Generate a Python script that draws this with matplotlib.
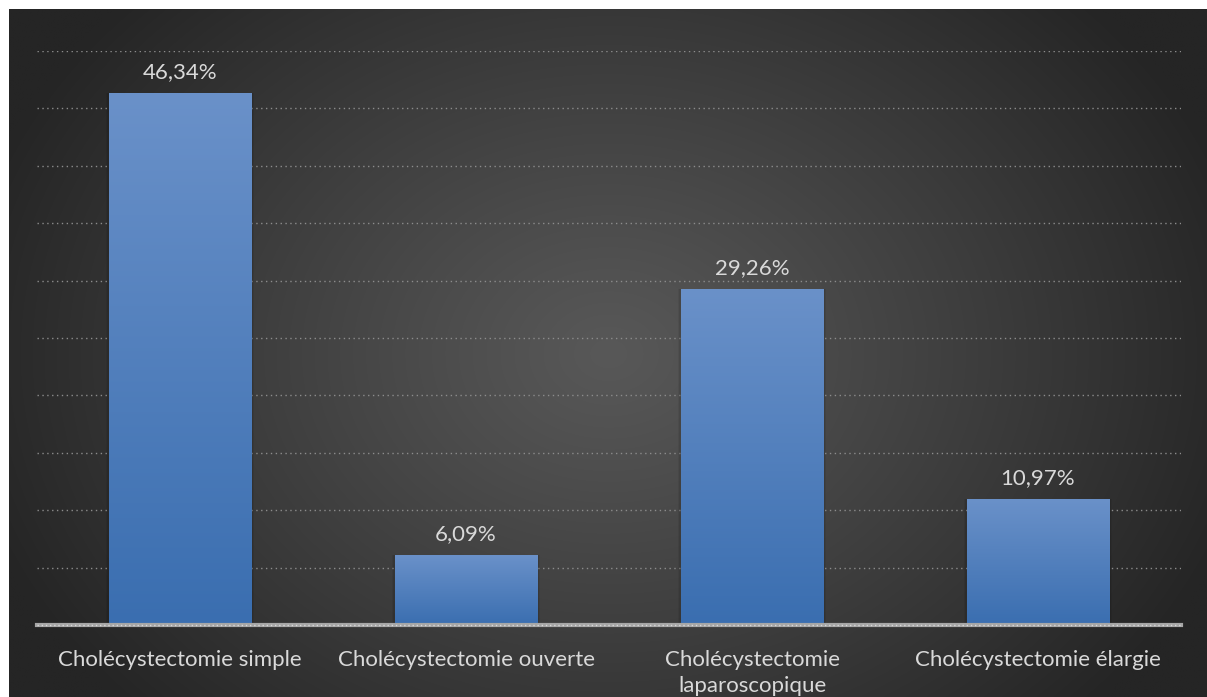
import numpy as np
import matplotlib
matplotlib.use("Agg")
import matplotlib.pyplot as plt
from matplotlib.colors import LinearSegmentedColormap

categories = ["Cholécystectomie simple", "Cholécystectomie ouverte",
              "Cholécystectomie\nlaparoscopique", "Cholécystectomie élargie"]
values = [46.34, 6.09, 29.26, 10.97]
value_labels = ["46,34%", "6,09%", "29,26%", "10,97%"]

W, H, DPI = 1207, 697, 100
fig = plt.figure(figsize=(W / DPI, H / DPI), dpi=DPI, facecolor="white")

# dark radial-gradient panel
bg = fig.add_axes([9 / W, 0, 1 - 9 / W, 1 - 9 / H])
bg.set_axis_off()
ny, nx = 400, 700
yy, xx = np.mgrid[0:ny, 0:nx]
cx, cy = nx * 0.5, ny * 0.5
r = np.sqrt(((xx - cx) / (nx * 0.55)) ** 2 + ((yy - cy) / (ny * 0.75)) ** 2)
r = np.clip(r, 0, 1)
c_center, c_edge = 0x58 / 255, 0x25 / 255
shade = c_center + (c_edge - c_center) * r ** 1.1
bg.imshow(np.dstack([shade] * 3), aspect="auto", extent=[0, 1, 0, 1],
          interpolation="bilinear")
bg.set_xlim(0, 1)
bg.set_ylim(0, 1)

ax = fig.add_axes([37 / W, (H - 625) / H, (1181 - 37) / W, (625 - 51) / H])
ax.patch.set_alpha(0)
ax.set_xlim(-0.5, 3.5)
ax.set_ylim(0, 50)

for g in np.arange(5, 51, 5):
    ax.axhline(g, color="#8c8c8c", lw=1.0, ls=(0, (1, 2.5)), zorder=1)

x = np.arange(len(categories))
bars = ax.bar(x, values, width=0.5, color="#4a7cbd", zorder=2, edgecolor="none")

cmap = LinearSegmentedColormap.from_list("barfill", ["#3a6eb0", "#6a91c9"])
grad = np.linspace(0, 1, 256).reshape(-1, 1)
for b in bars:
    x0, w, h = b.get_x(), b.get_width(), b.get_height()
    # soft shadow
    for k, a in ((0.010, 0.06), (0.005, 0.08)):
        ax.bar(x0 + w / 2, h, width=w + 2 * k, color="black", alpha=a,
               zorder=1.5, edgecolor="none")
    im = ax.imshow(grad, cmap=cmap, origin="lower", aspect="auto",
                   extent=[x0, x0 + w, 0, h], zorder=3, interpolation="bilinear")
    im.set_clip_path(b)

ax.set_xlim(-0.5, 3.5)
ax.set_ylim(0, 50)

for xi, v, lab in zip(x, values, value_labels):
    ax.annotate(lab, (xi, v), xytext=(0, 15), textcoords="offset points",
                ha="center", va="center", color="#d9d9d9", fontsize=16,
                family="Lato", clip_on=False)

# baseline
ax.axhline(0, color="#a6a6a6", lw=3, zorder=4, clip_on=False)
ax.axhline(0, color="#d9d9d9", lw=1, ls=(0, (1, 2)), zorder=5, clip_on=False)

ax.set_xticks(x)
ax.set_xticklabels(categories, color="#d9d9d9", fontsize=16, family="Lato",
                   linespacing=1.35)
ax.tick_params(axis="x", length=0, pad=18)
ax.set_yticks([])
for s in ax.spines.values():
    s.set_visible(False)

fig.savefig("out.png", dpi=DPI, facecolor="white")
